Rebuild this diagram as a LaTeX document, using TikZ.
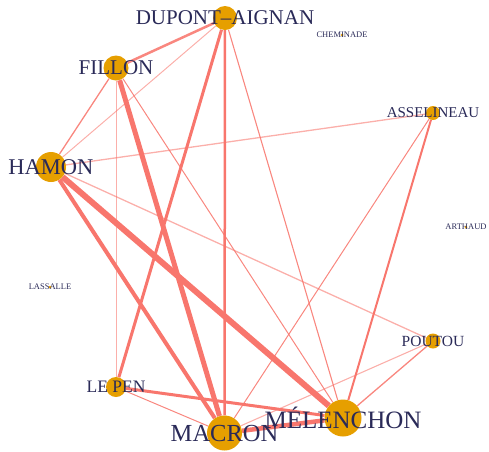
\documentclass[tikz,border=0pt]{standalone}
\usepackage{fontspec}
\setmainfont{Liberation Serif}
\usetikzlibrary{backgrounds}
\definecolor{VoteGold}{RGB}{230,159,0}
\definecolor{VoteRed}{RGB}{248,118,109}
\definecolor{VoteNavy}{RGB}{42,42,88}

\begin{document}
\begin{tikzpicture}[
x=1pt,y=-1pt,
cand/.style={
circle,fill=VoteGold,inner sep=0pt,minimum size=#1
},
candname/.style={text=VoteNavy,inner sep=0pt,font=\fontsize{#1}{#1}\selectfont},
tie/.style={draw=VoteRed,line width=#1},
strong/.style={draw opacity=1},
mid/.style={draw opacity=0.88},
faint/.style={draw opacity=0.58}
]
\useasboundingbox (0,0) rectangle (489,451);

% candidates
\node[cand=24,label={[candname=21]center:DUPONT--AIGNAN}] (dupont) at (225,18) {};
\node[cand=25,label={[candname=21]center:FILLON}] (fillon) at (116,68) {};
\node[cand=30,label={[candname=22.5]center:HAMON}] (hamon) at (51,167) {};
\node[cand=3,label={[candname=8.5]center:CHEMINADE}] (cheminade) at (342,35) {};
\node[cand=14,label={[candname=15]center:ASSELINEAU}] (asselineau) at (433,113) {};
\node[cand=3,label={[candname=8.5]center:ARTHAUD}] (arthaud) at (466,227) {};
\node[cand=3,label={[candname=8.5]center:LASSALLE}] (lassalle) at (50,287) {};
\node[cand=15,label={[candname=15.5]center:POUTOU}] (poutou) at (433,341) {};
\node[cand=20,label={[candname=17.5]center:LE PEN}] (lepen) at (116,387) {};
\node[cand=35,label={[candname=24.5]center:MACRON}] (macron) at (224.5,433) {};
\node[cand=37,label={[candname=25]center:MÉLENCHON}] (melenchon) at (343,418) {};

% ties
\begin{scope}[on background layer]
\draw[tie=2.5,mid] (dupont)--(fillon);
\draw[tie=1,faint] (dupont)--(hamon);
\draw[tie=2.5,strong] (dupont)--(macron);
\draw[tie=3,strong] (dupont)--(lepen);
\draw[tie=1.1,mid] (dupont)--(melenchon);
\draw[tie=1.3,mid] (fillon)--(hamon);
\draw[tie=1,faint] (fillon)--(lepen);
\draw[tie=5,strong] (fillon)--(macron);
\draw[tie=1,mid] (fillon)--(melenchon);
\draw[tie=1.3,faint] (hamon)--(asselineau);
\draw[tie=6,strong] (hamon)--(melenchon);
\draw[tie=4,strong] (hamon)--(macron);
\draw[tie=1.3,faint] (hamon)--(poutou);
\draw[tie=1,mid] (asselineau)--(macron);
\draw[tie=2,strong] (asselineau)--(melenchon);
\draw[tie=1.1,faint] (poutou)--(macron);
\draw[tie=1.3,mid] (poutou)--(melenchon);
\draw[tie=1,mid] (lepen)--(macron);
\draw[tie=3,strong] (lepen)--(melenchon);
\draw[tie=4.5,strong] (macron)--(melenchon);
\end{scope}
\end{tikzpicture}
\end{document}
